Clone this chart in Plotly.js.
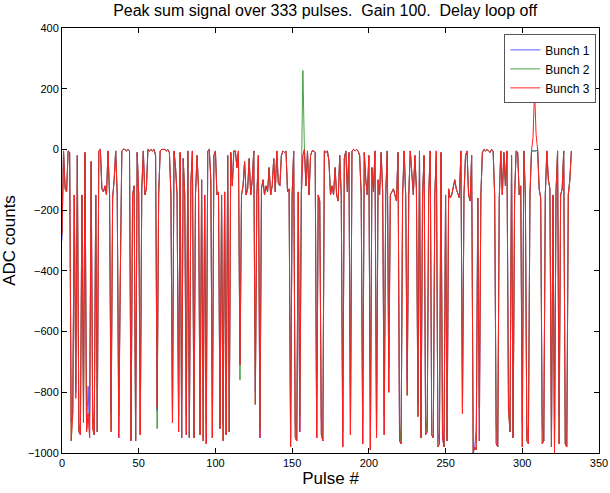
<!DOCTYPE html>
<html>
<head>
<meta charset="utf-8">
<script src="https://cdn.plot.ly/plotly-3.0.1.min.js"></script>
<style>html,body{margin:0;padding:0;background:#fff;}#chart{width:610px;height:493px;}</style>
</head>
<body>
<div id="chart"></div>
<script>
var titleText = "Peak sum signal over 333 pulses.  Gain 100.  Delay loop off";
var seriesNames = ["Bunch 1", "Bunch 2", "Bunch 3"];
var xTicks = [0, 50, 100, 150, 200, 250, 300, 350];
var yTicks = [-1000, -800, -600, -400, -200, 0, 200, 400];

var bunch1 = [
-300,-5,-120,-140,-5,-10,-900,-870,-150,-800,
-20,-930,-940,-150,-820,-10,-930,-780,-950,-40,
-850,-940,-150,-930,-5,0,-130,-140,-120,-150,
-5,-150,-870,-160,-100,-5,-150,-950,-420,-5,
0,0,-5,0,-5,-960,-150,-120,-960,-10,
-150,-940,-130,-5,-150,-130,0,-5,0,-5,
0,-20,-860,-150,-5,0,0,0,-5,0,
-10,-150,-900,-5,-60,-150,-880,-10,-950,-30,
-150,-940,-5,-950,-110,-5,-950,-150,-20,-130,
-940,-100,-830,-150,-970,-5,0,-100,-950,-20,
-5,-150,-140,-920,-150,-900,-140,-940,-20,-930,
-10,-120,-5,-5,-60,-5,-710,-150,-120,-40,
-150,-130,-30,-150,-100,-5,-800,-150,-20,-950,
-130,-100,-150,-120,-140,-60,-150,-120,-30,-140,
-5,-110,-120,-20,-5,-10,-5,-140,-130,-950,
-150,-5,-900,-960,-140,-930,-150,-20,0,-120,
-5,-150,-20,-5,-5,-10,-950,-150,-170,-940,
-960,-5,-10,-5,-40,-150,-120,-150,-60,-150,
-170,-20,-150,-980,-30,-5,-140,-10,-940,-5,
0,-5,0,-5,-20,-150,-970,-10,-100,-150,
-20,-990,-60,-140,-5,-950,-100,-150,-10,-140,
-940,-150,-5,-720,-150,-140,-130,-150,-170,-10,
-960,-970,-150,-5,-150,-760,-150,-5,-100,-150,
-20,-130,-840,-5,-950,-150,-20,-940,-930,-150,
-5,-940,-950,-150,-5,-930,-970,-10,-950,-980,
-150,-960,-130,-160,-150,-120,-100,-130,-150,-160,
-5,-850,-150,-20,-5,-150,-170,-20,-1000,-980,
-920,-160,-960,-150,-10,0,-5,0,-5,-10,
0,-5,-150,-970,-980,-160,-5,-150,-10,-120,
-5,-800,-930,-20,-950,-150,-5,-10,-150,-120,
-900,-5,-150,-960,-970,-150,-5,-5,-5,-5,
0,-130,-160,-900,-960,-150,-5,-100,-130,-980,
-150,-960,-140,-5,-880,-150,-130,-5,-970,-980,
-150,-100,-5
];

var bunch2 = [
-280,-5,-130,-140,-5,-10,-960,-870,-150,-780,
-20,-930,-900,-150,-900,-10,-930,-870,-880,-40,
-920,-940,-150,-930,-5,0,-130,-140,-120,-150,
-5,-150,-930,-160,-100,-5,-150,-880,-420,-5,
0,0,-5,0,-5,-960,-150,-120,-960,-10,
-150,-940,-130,-5,-150,-130,0,-5,0,-5,
0,-20,-920,-150,-5,0,0,0,-5,0,
-10,-150,-900,-5,-60,-150,-930,-10,-950,-30,
-150,-880,-5,-950,-110,-5,-950,-150,-20,-130,
-940,-100,-960,-150,-900,-5,0,-100,-950,-20,
-5,-150,-140,-920,-150,-960,-140,-940,-20,-930,
-10,-120,-5,-5,-60,-5,-760,-150,-120,-40,
-150,-130,-30,-150,-100,-5,-840,-150,-20,-920,
-130,-100,-150,-120,-140,-60,-150,-120,-30,-140,
-5,-110,-120,-20,-5,-10,-5,-140,-130,-980,
-150,-5,-950,-960,-140,-880,-100,260,0,-120,
-5,-150,-20,-5,-5,-10,-950,-150,-170,-880,
-960,-5,-10,-5,-40,-150,-120,-150,-60,-150,
-170,-20,-150,-930,-30,-5,-140,-10,-940,-5,
0,-5,0,-5,-20,-150,-900,-10,-100,-150,
-20,-990,-60,-140,-5,-950,-100,-150,-10,-140,
-880,-150,-5,-800,-150,-140,-130,-150,-170,-10,
-900,-970,-150,-5,-150,-810,-150,-5,-100,-150,
-20,-130,-880,-5,-950,-150,-20,-880,-930,-150,
-5,-940,-950,-150,-5,-980,-970,-10,-900,-980,
-150,-960,-130,-160,-150,-120,-100,-130,-150,-160,
-5,-870,-150,-20,-5,-150,-170,-20,-1000,-980,
-990,-160,-850,-150,-10,0,-5,0,-5,-10,
0,-5,-150,-900,-980,-160,-5,-150,-10,-120,
-5,-860,-930,-20,-950,-150,-5,-10,-150,-120,
-980,-5,-150,-960,-900,-150,-5,-5,-5,-5,
0,-130,-160,-970,-960,-150,-5,-100,-130,-980,
-150,-1000,-140,-5,-970,-150,-130,-5,-970,-980,
-150,-100,-5
];

var bunch3 = [
-280,-5,-130,-140,-5,-10,-960,-870,-150,-820,
-20,-930,-940,-150,-900,-10,-930,-870,-950,-40,
-920,-940,-150,-930,-5,0,-130,-140,-120,-150,
-5,-150,-930,-160,-100,-5,-150,-950,-420,-5,
0,0,-5,0,-5,-960,-150,-120,-960,-10,
-150,-940,-130,-5,-150,-130,0,-5,0,-5,
0,-20,-850,-150,-5,0,0,0,-5,0,
-10,-150,-900,-5,-60,-150,-930,-10,-950,-30,
-150,-940,-5,-950,-110,-5,-950,-150,-20,-130,
-940,-100,-960,-150,-970,-5,0,-100,-950,-20,
-5,-150,-140,-920,-150,-960,-140,-940,-20,-930,
-10,-120,-5,-5,-60,-5,-710,-150,-120,-40,
-150,-130,-30,-150,-100,-5,-840,-150,-20,-950,
-130,-100,-150,-120,-140,-60,-150,-120,-30,-140,
-5,-110,-120,-20,-5,-10,-5,-140,-130,-980,
-150,-5,-950,-960,-140,-930,-150,-20,0,-120,
-5,-150,-20,-5,-5,-10,-950,-150,-170,-940,
-960,-5,-10,-5,-40,-150,-120,-150,-60,-150,
-170,-20,-150,-980,-30,-5,-140,-10,-940,-5,
0,-5,0,-5,-20,-150,-970,-10,-100,-150,
-20,-990,-60,-140,-5,-950,-100,-150,-10,-140,
-940,-150,-5,-800,-150,-140,-130,-150,-170,-10,
-960,-970,-150,-5,-150,-810,-150,-5,-100,-150,
-20,-130,-880,-5,-950,-150,-20,-940,-930,-150,
-5,-940,-950,-150,-5,-980,-970,-10,-950,-980,
-150,-960,-130,-160,-150,-120,-100,-130,-150,-160,
-5,-870,-150,-20,-5,-150,-170,-20,-1000,-980,
-990,-160,-960,-150,-10,0,-5,0,-5,-10,
0,-5,-150,-970,-980,-160,-5,-150,-10,-120,
-5,-860,-930,-20,-950,-150,-5,-10,-150,-120,
-980,-5,-150,-960,-970,-150,-5,40,200,50,
0,-130,-160,-970,-960,-150,-5,-100,-130,-980,
-150,-1000,-140,-5,-970,-150,-130,-5,-970,-980,
-150,-100,-5
];

var pulses = bunch3.map(function(_, i){ return i; });
var colors = ["#3333ff", "#1a8a1a", "#ff2020"];
var widths = [0.8, 0.8, 1];
var allSeries = [bunch1, bunch2, bunch3];

var traces = allSeries.map(function(s, k){
  return {x: pulses, y: s, type: "scatter", mode: "lines", name: seriesNames[k],
          line: {color: colors[k], width: widths[k]}};
});

var axisCommon = {showgrid: false, zeroline: false, showline: true, linecolor: "#000", linewidth: 1,
  mirror: "ticks", ticks: "inside", ticklen: 5, tickcolor: "#000",
  tickfont: {family: "Liberation Sans, Arial, sans-serif", size: 11, color: "#000"}};

var layout = {
  width: 610, height: 493,
  margin: {l: 62, r: 11, t: 28, b: 40},
  paper_bgcolor: "#fff", plot_bgcolor: "#fff",
  font: {family: "Liberation Sans, Arial, sans-serif", color: "#000"},
  title: {text: titleText, x: 0.533, xanchor: "center", y: 0.99, yanchor: "top",
          font: {family: "Liberation Sans, Arial, sans-serif", size: 16, color: "#000"}},
  xaxis: Object.assign({}, axisCommon, {range: [0, 350], tickvals: xTicks,
    title: {text: "Pulse #", standoff: 3, font: {size: 17, color: "#000"}}}),
  yaxis: Object.assign({}, axisCommon, {range: [-1000, 400], tickvals: yTicks,
    title: {text: "ADC counts", standoff: 8, font: {size: 17, color: "#000"}}}),
  showlegend: true,
  legend: {x: 0.995, xanchor: "right", y: 0.985, yanchor: "top", bgcolor: "#fff",
           bordercolor: "#555", borderwidth: 1, tracegroupgap: 0,
           font: {size: 12, color: "#000"}}
};

Plotly.newPlot("chart", traces, layout, {displayModeBar: false, staticPlot: true});
</script>
</body>
</html>
